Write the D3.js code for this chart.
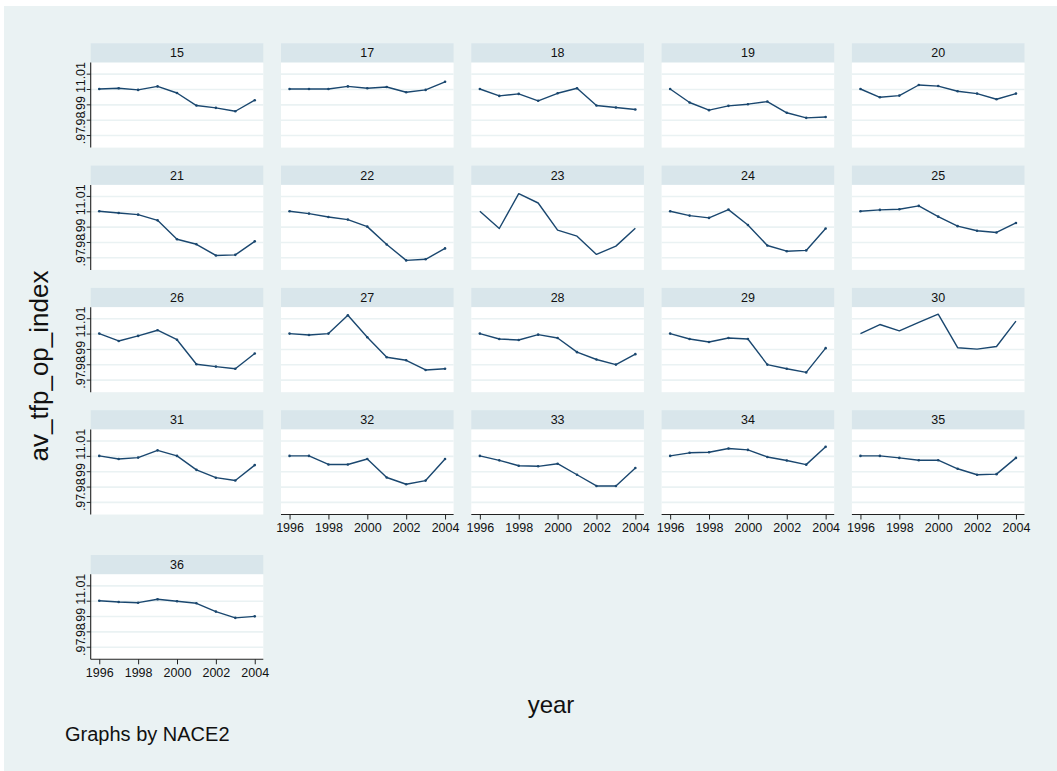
<!DOCTYPE html>
<html>
<head>
<meta charset="utf-8">
<script src="https://cdn.jsdelivr.net/npm/d3@7/dist/d3.min.js"></script>
<style>
  html, body { margin: 0; padding: 0; background: #ffffff; }
  svg { display: block; font-family: "Liberation Sans", Arial, Helvetica, sans-serif; }
</style>
</head>
<body>
<svg id="chart" width="1057" height="771"></svg>
<script>
// Average TFP (OP) index by NACE2 industry, 1996-2004
const years = [1996, 1997, 1998, 1999, 2000, 2001, 2002, 2003, 2004];
const groups = ["15","17","18","19","20","21","22","23","24","25",
                "26","27","28","29","30","31","32","33","34","35","36"];

const tfp15 = [1.0000, 1.0005, 0.9994, 1.0017, 0.9974, 0.9892, 0.9877, 0.9855, 0.9927];
const tfp17 = [1.0000, 1.0000, 1.0000, 1.0017, 1.0005, 1.0013, 0.9979, 0.9994, 1.0047];
const tfp18 = [1.0000, 0.9955, 0.9968, 0.9923, 0.9972, 1.0005, 0.9892, 0.9879, 0.9866];
const tfp19 = [1.0000, 0.9912, 0.9862, 0.9890, 0.9901, 0.9918, 0.9845, 0.9812, 0.9817];
const tfp20 = [1.0000, 0.9946, 0.9957, 1.0026, 1.0019, 0.9985, 0.9970, 0.9933, 0.9970];
const tfp21 = [1.0000, 0.9989, 0.9978, 0.9941, 0.9818, 0.9785, 0.9712, 0.9716, 0.9804];
const tfp22 = [1.0000, 0.9985, 0.9963, 0.9946, 0.9900, 0.9784, 0.9680, 0.9687, 0.9758];
const tfp23 = [1.0000, 0.9888, 1.0115, 1.0054, 0.9877, 0.9838, 0.9719, 0.9773, 0.9890];
const tfp24 = [1.0000, 0.9972, 0.9957, 1.0011, 0.9911, 0.9777, 0.9740, 0.9745, 0.9888];
const tfp25 = [1.0000, 1.0009, 1.0013, 1.0035, 0.9965, 0.9903, 0.9873, 0.9862, 0.9924];
const tfp26 = [1.0000, 0.9952, 0.9985, 1.0022, 0.9960, 0.9800, 0.9785, 0.9771, 0.9870];
const tfp27 = [1.0000, 0.9991, 1.0000, 1.0119, 0.9976, 0.9846, 0.9826, 0.9763, 0.9771];
const tfp28 = [1.0000, 0.9965, 0.9958, 0.9993, 0.9971, 0.9879, 0.9831, 0.9798, 0.9866];
const tfp29 = [1.0000, 0.9965, 0.9945, 0.9971, 0.9965, 0.9798, 0.9771, 0.9747, 0.9905];
const tfp30 = [1.0000, 1.0059, 1.0018, 1.0073, 1.0127, 0.9908, 0.9899, 0.9916, 1.0081];
const tfp31 = [1.0000, 0.9980, 0.9989, 1.0036, 1.0000, 0.9909, 0.9858, 0.9840, 0.9940];
const tfp32 = [1.0000, 1.0000, 0.9944, 0.9944, 0.9980, 0.9859, 0.9815, 0.9839, 0.9980];
const tfp33 = [1.0000, 0.9971, 0.9936, 0.9932, 0.9949, 0.9877, 0.9804, 0.9804, 0.9921];
const tfp34 = [1.0000, 1.0020, 1.0024, 1.0048, 1.0039, 0.9993, 0.9970, 0.9943, 1.0059];
const tfp35 = [1.0000, 1.0000, 0.9987, 0.9972, 0.9972, 0.9916, 0.9877, 0.9881, 0.9987];
const tfp36 = [1.0000, 0.9991, 0.9987, 1.0009, 0.9996, 0.9983, 0.9929, 0.9888, 0.9898];

const seriesList = [tfp15, tfp17, tfp18, tfp19, tfp20, tfp21, tfp22, tfp23, tfp24, tfp25,
                    tfp26, tfp27, tfp28, tfp29, tfp30, tfp31, tfp32, tfp33, tfp34, tfp35, tfp36];

// groups drawn as plain lines (no point markers)
const lineOnlyGroups = ["23", "30"];

const yTickValues = [0.97, 0.98, 0.99, 1.00, 1.01];
const yTickLabels = [".97", ".98", ".99", "1", "1.01"];
const xTickValues = [1996, 1998, 2000, 2002, 2004];

const yTitle = "av_tfp_op_index";
const xTitle = "year";
const noteText = "Graphs by NACE2";

// ---- layout ----
const W = 1057, H = 771;
const nCols = 5;
const colLeft0 = 90.7, colStep = 190.3, plotW = 172.6;
const rowTop0 = 43.3, rowStep = 122.3, lastRowTop = 555;
const stripH = 19.3, plotH = 85;
const navy = "#1a476f";

const svg = d3.select("#chart");

// graph region background
svg.append("rect")
  .attr("x", 4).attr("y", 6).attr("width", W - 4).attr("height", H - 6)
  .attr("fill", "#eaf2f3");

const x = d3.scaleLinear().domain([1995.56, 2004.44]).range([0, plotW]);
const y = d3.scaleLinear().domain([0.9618, 1.0172]).range([plotH, 0]);

const nRows = Math.ceil(groups.length / nCols);

groups.forEach((g, i) => {
  const r = Math.floor(i / nCols), c = i % nCols;
  const left = colLeft0 + c * colStep;
  const top = r < nRows - 1 ? rowTop0 + r * rowStep : lastRowTop;
  const values = seriesList[i];
  const data = years.map((yr, k) => ({ year: yr, v: values[k] }));

  const panel = svg.append("g").attr("transform", `translate(${left},${top})`);

  // strip with the group label
  panel.append("rect")
    .attr("x", 0).attr("y", 0).attr("width", plotW).attr("height", stripH)
    .attr("fill", "#d9e6eb");
  panel.append("text")
    .attr("x", plotW / 2).attr("y", stripH / 2 + 4.5)
    .attr("text-anchor", "middle")
    .attr("font-size", 12.5)
    .attr("fill", "#111")
    .text(g);

  const plot = panel.append("g").attr("transform", `translate(0,${stripH})`);

  plot.append("rect")
    .attr("x", 0).attr("y", 0).attr("width", plotW).attr("height", plotH)
    .attr("fill", "#ffffff");

  // horizontal gridlines
  plot.append("g")
    .call(d3.axisLeft(y).tickValues(yTickValues).tickSize(-plotW).tickFormat(""))
    .call(ax => ax.select(".domain").remove())
    .call(ax => ax.selectAll("line").attr("stroke", "#eaf2f3").attr("stroke-width", 1.6));

  // series
  const line = d3.line().x(d => x(d.year)).y(d => y(d.v));
  plot.append("path")
    .datum(data)
    .attr("fill", "none")
    .attr("stroke", navy)
    .attr("stroke-width", 1.4)
    .attr("stroke-linejoin", "round")
    .attr("d", line);

  if (!lineOnlyGroups.includes(g)) {
    plot.selectAll("circle.pt")
      .data(data)
      .join("circle")
      .attr("class", "pt")
      .attr("cx", d => x(d.year))
      .attr("cy", d => y(d.v))
      .attr("r", 1.3)
      .attr("fill", navy);
  }

  // y axis on the first column
  if (c === 0) {
    const yAxis = plot.append("g")
      .call(d3.axisLeft(y).tickValues(yTickValues).tickSize(4)
        .tickFormat((d, k) => yTickLabels[k]));
    yAxis.select(".domain")
      .attr("d", `M0,0V${plotH}`)
      .attr("stroke", "#222").attr("stroke-width", 1.1);
    yAxis.selectAll(".tick line").attr("stroke", "#222");
    yAxis.selectAll(".tick text")
      .attr("transform", "rotate(-90)")
      .attr("x", 0).attr("y", -6).attr("dy", 0)
      .attr("text-anchor", "middle")
      .attr("font-size", 12.5)
      .attr("font-family", "Liberation Sans, Arial, sans-serif")
      .attr("fill", "#111");
  }

  // x axis on the bottom panel of each column
  const below = i + nCols;
  if (below >= groups.length) {
    const xAxis = plot.append("g")
      .attr("transform", `translate(0,${plotH})`)
      .call(d3.axisBottom(x).tickValues(xTickValues).tickSize(5).tickFormat(d3.format("d")));
    xAxis.select(".domain")
      .attr("d", `M0,0H${plotW}`)
      .attr("stroke", "#222").attr("stroke-width", 1.1);
    xAxis.selectAll(".tick line").attr("stroke", "#222");
    xAxis.selectAll(".tick text")
      .attr("y", 9).attr("dy", "0.71em")
      .attr("font-size", 12.5)
      .attr("font-family", "Liberation Sans, Arial, sans-serif")
      .attr("fill", "#111");
  }
});

// titles and note
svg.append("text")
  .attr("transform", "translate(48,366) rotate(-90)")
  .attr("text-anchor", "middle")
  .attr("font-size", 26)
  .attr("fill", "#111")
  .text(yTitle);

svg.append("text")
  .attr("x", 551).attr("y", 713)
  .attr("text-anchor", "middle")
  .attr("font-size", 24)
  .attr("fill", "#111")
  .text(xTitle);

svg.append("text")
  .attr("x", 65).attr("y", 741)
  .attr("font-size", 20)
  .attr("fill", "#111")
  .text(noteText);
</script>
</body>
</html>
